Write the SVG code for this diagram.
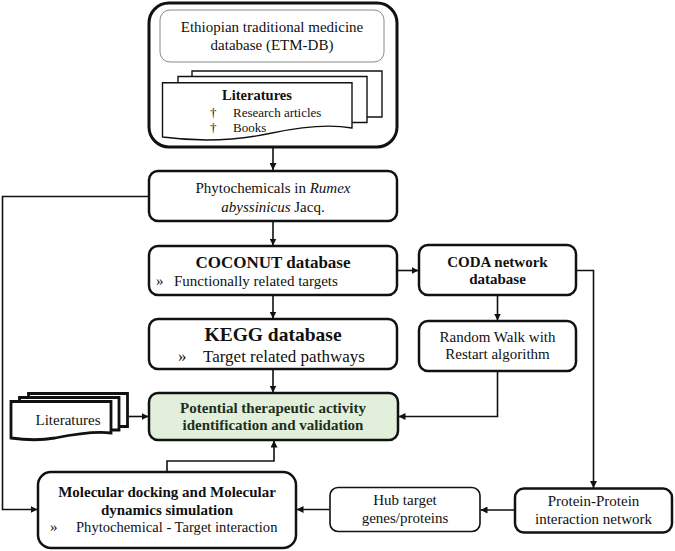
<svg xmlns="http://www.w3.org/2000/svg" width="675" height="551" viewBox="0 0 675 551">
<defs>
<style>
text{font-family:"Liberation Serif","Times New Roman",Times,"DejaVu Serif",serif;fill:#111;}
.t15{font-size:15px;}
.b15{font-size:15px;font-weight:bold;}
.box{fill:#fff;stroke:#111;stroke-width:2.5;}
.thin{fill:#fff;stroke:#111;stroke-width:1.6;}
.con{fill:none;stroke:#111;stroke-width:1.6;}
.sheet{fill:#fff;stroke:#111;stroke-width:1.4;}
.sheetb{fill:#fff;stroke:#111;stroke-width:2.8;}
</style>
<marker id="ah" viewBox="0 0 10 10" refX="10" refY="5" markerWidth="7" markerHeight="7" markerUnits="userSpaceOnUse" orient="auto">
<path d="M0,0 L10,5 L0,10 z" fill="#111"/>
</marker>
</defs>
<rect width="675" height="551" fill="#fff"/>
<g font-family="Liberation Serif, DejaVu Serif, serif">
<g id="sources">
<rect x="149" y="3" width="248" height="144" rx="20" fill="#fff" stroke="#111" stroke-width="3"/>
<rect x="160" y="10" width="224" height="52" rx="10" fill="#fff" stroke="#888" stroke-width="1"/>
<text class="t15" x="272" y="31.5" text-anchor="middle">Ethiopian traditional medicine</text>
<text class="t15" x="272" y="49.5" text-anchor="middle">database (ETM-DB)</text>
<path class="sheet" d="M192,117 V71 H382 V117 H366"/>
<path class="sheet" d="M178,122 V76.5 H367 V122.5 H352"/>
<path class="sheet" d="M162.5,137 V82.7 H352 V128 C330,124 300,127 272,133 C240,140 200,142 162.5,137 z"/>
<text style="font-size:14.5px;font-weight:bold" x="257" y="100" text-anchor="middle">Literatures</text>
<text style="font-size:13px" x="210" y="116.5">&#8224;</text>
<text style="font-size:13px" x="233" y="116.5">Research articles</text>
<text style="font-size:13px" x="210" y="131.5">&#8224;</text>
<text style="font-size:13px" x="233" y="131.5">Books</text>
</g>

<g id="phytochemicals">
<rect class="box" x="149" y="171" width="248" height="50" rx="9"/>
<text class="t15" x="273" y="192.5" text-anchor="middle">Phytochemicals in <tspan font-style="italic">Rumex</tspan></text>
<text class="t15" x="273" y="211.5" text-anchor="middle"><tspan font-style="italic">abyssinicus</tspan> Jacq.</text>
</g>

<g id="coconut">
<rect class="box" x="149" y="246" width="248" height="49" rx="9"/>
<text style="font-size:17px;font-weight:bold" x="273" y="267.5" text-anchor="middle">COCONUT database</text>
<text class="t15" x="156" y="285.5">»</text>
<text class="t15" x="174" y="285.5">Functionally related targets</text>
</g>

<g id="kegg">
<rect class="box" x="149" y="319" width="248" height="50" rx="9"/>
<text style="font-size:19.5px;font-weight:bold" x="273" y="341" text-anchor="middle">KEGG database</text>
<text style="font-size:17px" x="178" y="361.5">»</text>
<text style="font-size:17px" x="203" y="361.5">Target related pathways</text>
</g>

<g id="potential">
<rect x="149" y="393" width="249" height="47" rx="9" fill="#e2efda" stroke="#111" stroke-width="2.5"/>
<text class="b15" x="273" y="412.5" text-anchor="middle" style="fill:#1c2e1c">Potential therapeutic activity</text>
<text class="b15" x="273" y="430" text-anchor="middle" style="fill:#1c2e1c">identification and validation</text>
</g>

<g id="literatures2">
<path class="sheetb" d="M28.5,401 V393.5 H127.5 V426.5 H119"/>
<path class="sheetb" d="M19.5,401.5 V397.5 H119 V430 H111"/>
<path class="sheetb" d="M11,438 V401.5 H111 V433 C95,431 75,434 55,438 C38,441 25,440 11,438 z"/>
<text class="t15" x="68" y="425" text-anchor="middle">Literatures</text>
</g>

<g id="coda">
<rect class="box" x="419" y="245" width="157" height="50" rx="9"/>
<text class="b15" x="497.5" y="266.5" text-anchor="middle">CODA network</text>
<text class="b15" x="497.5" y="284" text-anchor="middle">database</text>
</g>

<g id="rwr">
<rect class="box" x="419" y="321" width="157" height="50" rx="9"/>
<text class="t15" x="497.5" y="341.5" text-anchor="middle">Random Walk with</text>
<text class="t15" x="497.5" y="358.5" text-anchor="middle">Restart algorithm</text>
</g>

<g id="ppi">
<rect class="box" x="515" y="488.5" width="157" height="44" rx="9"/>
<text class="t15" x="593.5" y="506" text-anchor="middle">Protein-Protein</text>
<text class="t15" x="593.5" y="523.5" text-anchor="middle">interaction network</text>
</g>

<g id="hub">
<rect class="thin" x="330" y="487.5" width="150" height="44" rx="8"/>
<text class="t15" x="405" y="505" text-anchor="middle">Hub target</text>
<text class="t15" x="405" y="522.5" text-anchor="middle">genes/proteins</text>
</g>

<g id="docking">
<rect class="box" x="38" y="472" width="258" height="76" rx="13"/>
<text class="b15" x="167" y="496.5" text-anchor="middle">Molecular docking and Molecular</text>
<text class="b15" x="167" y="514.5" text-anchor="middle">dynamics simulation</text>
<text class="t15" x="50" y="532">»</text>
<text style="font-size:14.6px" x="76" y="532">Phytochemical - Target interaction</text>
</g>
</g>
<g id="connectors">
<path class="con" d="M273,148 V170" marker-end="url(#ah)"/>
<path class="con" d="M273,222 V245.5" marker-end="url(#ah)"/>
<path class="con" d="M273,296 V318.5" marker-end="url(#ah)"/>
<path class="con" d="M273,370 V392.5" marker-end="url(#ah)"/>
<path class="con" d="M397.5,270.5 H418.5" marker-end="url(#ah)"/>
<path class="con" d="M576.5,270.5 H593.5 V488" marker-end="url(#ah)"/>
<path class="con" d="M497.5,296 V320.5" marker-end="url(#ah)"/>
<path class="con" d="M497.5,371.5 V416.5 H398.5" marker-end="url(#ah)"/>
<path class="con" d="M128.5,416.5 H148.5" marker-end="url(#ah)"/>
<path class="con" d="M148,196.5 H2.5 V509.5 H37.5" marker-end="url(#ah)"/>
<path class="con" d="M514.5,510 H480.5" marker-end="url(#ah)"/>
<path class="con" d="M329.5,509.5 H296.5" marker-end="url(#ah)"/>
<path class="con" d="M167,471 V461 H274 V440.5" marker-end="url(#ah)"/>
</g>
</svg>
